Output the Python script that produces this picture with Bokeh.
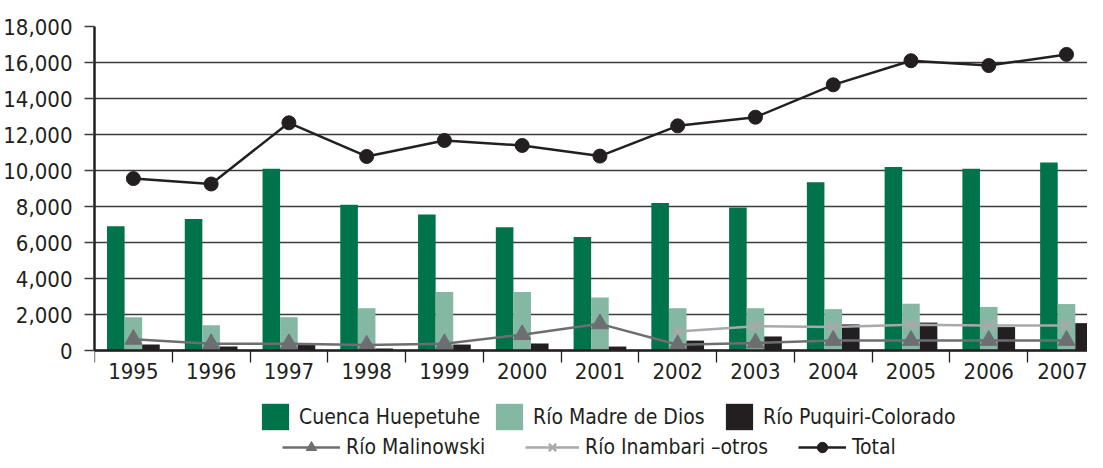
from bokeh.plotting import figure
from bokeh.models import (FixedTicker, NumeralTickFormatter, Legend, LegendItem,
                          ColumnDataSource, Range1d)
from bokeh.transform import dodge
from bokeh.embed import file_html
from bokeh.resources import INLINE

years = ["1995", "1996", "1997", "1998", "1999", "2000", "2001",
         "2002", "2003", "2004", "2005", "2006", "2007"]
cuenca_huepetuhe = [6900, 7300, 10100, 8100, 7550, 6850, 6300, 8200, 7950, 9350, 10200, 10100, 10450]
rio_madre_de_dios = [1850, 1400, 1850, 2350, 3250, 3250, 2950, 2350, 2350, 2300, 2600, 2420, 2580]
rio_puquiri_colorado = [330, 220, 350, 110, 330, 390, 220, 550, 780, 1450, 1550, 1300, 1520]
rio_malinowski = [620, 380, 380, 300, 380, 880, 1480, 320, 420, 560, 560, 560, 560]
inambari_years = ["2002", "2003", "2004", "2005", "2006", "2007"]
rio_inambari_otros = [1050, 1350, 1300, 1430, 1390, 1390]
total = [9550, 9250, 12650, 10780, 11670, 11390, 10800, 12480, 12960, 14760, 16100, 15830, 16450]
y_ticks = [0, 2000, 4000, 6000, 8000, 10000, 12000, 14000, 16000, 18000]

FONT = "DejaVu Sans Condensed, Roboto"
DARK = "#231F20"
GREEN = "#00734A"
LIGHT = "#85B8A3"
GRAY = "#6D6E71"
LGRAY = "#A7A9AC"
GRID = "#3C3C3C"

xs = list(range(len(years)))
src = ColumnDataSource(dict(x=xs, cuenca=cuenca_huepetuhe, madre=rio_madre_de_dios,
                            puquiri=rio_puquiri_colorado, malin=rio_malinowski, total=total))
src_inam = ColumnDataSource(dict(x=[years.index(y) for y in inambari_years], v=rio_inambari_otros))

# frame runs to the bottom of the figure so the legend rows sit inside it
p = figure(width=1087, height=460, x_range=Range1d(-0.5, 12.27), y_range=Range1d(-6111.1, 18000),
           output_backend="svg", toolbar_location=None,
           min_border_left=87, min_border_right=0, min_border_top=26, min_border_bottom=0)
p.outline_line_color = None
p.background_fill_color = "white"
p.border_fill_color = "white"

# grid
p.xgrid.grid_line_color = None
p.ygrid.ticker = FixedTicker(ticks=y_ticks)
p.ygrid.grid_line_color = GRID
p.ygrid.grid_line_width = 1.3

bw = 0.226
r1 = p.vbar(x=dodge("x", -bw, range=p.x_range), top="cuenca", width=bw, source=src,
            fill_color=GREEN, line_color=None)
r2 = p.vbar(x="x", top="madre", width=bw, source=src, fill_color=LIGHT, line_color=None)
r3 = p.vbar(x=dodge("x", bw, range=p.x_range), top="puquiri", width=bw, source=src,
            fill_color=DARK, line_color=None)

l5 = p.line("x", "v", source=src_inam, line_color=LGRAY, line_width=2.5)
s5 = p.scatter("x", "v", source=src_inam, marker="x", size=15, line_color=LGRAY, line_width=2.5)
l4 = p.line("x", "malin", source=src, line_color=GRAY, line_width=2.5)
s4 = p.scatter("x", "malin", source=src, marker="triangle", size=17, fill_color=GRAY, line_color=GRAY)
l6 = p.line("x", "total", source=src, line_color=DARK, line_width=2.5)
s6 = p.scatter("x", "total", source=src, marker="circle", size=14, fill_color=DARK, line_color=DARK)

# y axis
ya = p.yaxis[0]
ya.ticker = FixedTicker(ticks=y_ticks)
ya.bounds = (0, 18000)
ya.formatter = NumeralTickFormatter(format="0,0")
ya.axis_line_color = DARK
ya.axis_line_width = 2.5
ya.major_tick_out = 10
ya.major_tick_in = 0
ya.major_tick_line_color = GRID
ya.major_tick_line_width = 1.3
ya.minor_tick_line_color = None
ya.major_label_standoff = 12
ya.major_label_text_font = FONT
ya.major_label_text_font_size = "22px"
ya.major_label_text_color = DARK

# x axis, fixed at y = 0
xa = p.xaxis[0]
xa.fixed_location = 0
xa.ticker = FixedTicker(ticks=xs, minor_ticks=[i - 0.5 for i in range(len(years) + 1)])
xa.major_label_overrides = {i: y for i, y in zip(xs, years)}
xa.axis_line_color = DARK
xa.axis_line_width = 2.5
xa.major_tick_line_color = None
xa.major_tick_out = 0
xa.major_tick_in = 0
xa.minor_tick_out = 12
xa.minor_tick_in = 0
xa.minor_tick_line_color = DARK
xa.minor_tick_line_width = 1.3
xa.major_label_standoff = 0
xa.major_label_text_font = FONT
xa.major_label_text_font_size = "22px"
xa.major_label_text_color = DARK


def add_legend(label, renderers, x, y, gw, gh, standoff):
    lg = Legend(items=[LegendItem(label=label, renderers=renderers)], location=(x, y),
                orientation="horizontal", glyph_width=gw, glyph_height=gh,
                label_standoff=standoff, label_height=gh, padding=0, margin=0, spacing=0,
                border_line_color=None, background_fill_alpha=0,
                label_text_font=FONT, label_text_font_size="21px", label_text_color=DARK)
    p.add_layout(lg)


add_legend("Cuenca Huepetuhe", [r1], 164, 27, 34, 33, 7)
add_legend("Río Madre de Dios", [r2], 398, 27, 34, 33, 7)
add_legend("Río Puquiri-Colorado", [r3], 628, 27, 34, 33, 7)
add_legend("Río Malinowski", [l4, s4], 188, 0, 58, 26, 6)
add_legend("Río Inambari –otros", [l5, s5], 431, 0, 54, 26, 6)
add_legend("Total", [l6, s6], 704, 0, 48, 26, 6)

open("out.html", "w").write(file_html(p, INLINE))
